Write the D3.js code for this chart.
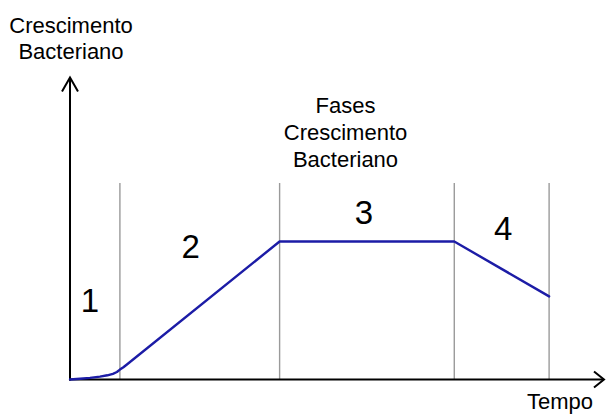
<!DOCTYPE html>
<html><head><meta charset="utf-8">
<script src="https://cdn.jsdelivr.net/npm/d3@7"></script>
<style>body{margin:0;background:#fff}svg{display:block}text{font-family:"Liberation Sans",Arial,sans-serif;fill:#000}</style>
</head><body>
<script>
// Data (time units, growth units)
const curveTime  = [0, 2, 4, 6, 7.5, 8.6, 9.4, 10, 10.7, 11.4, 42, 77, 96];
const curveValue = [0, 0.25, 0.55, 0.95, 1.4, 1.9, 2.5, 3.3, 4.1, 5.0, 46, 46, 27.7];
const phaseBounds = [10, 42, 77, 96];
const phaseLabels = ["1", "2", "3", "4"];
const phaseLabelTime  = [4.0, 24.2, 58.9, 86.8];
const phaseLabelValue = [22.4, 40.6, 51.7, 46.4];
const titleLines = ["Fases", "Crescimento", "Bacteriano"];
const yAxisTitle = ["Crescimento", "Bacteriano"];
const xAxisTitle = "Tempo";

const W = 606, H = 414;
const svg = d3.select("body").append("svg").attr("width", W).attr("height", H);

const x = d3.scaleLinear().domain([0, 107]).range([70, 604]);
const y = d3.scaleLinear().domain([0, 100]).range([379.5, 79.5]);

// phase dividers
svg.append("g").selectAll("line").data(phaseBounds).join("line")
  .attr("x1", d => x(d)).attr("x2", d => x(d))
  .attr("y1", y(0)).attr("y2", y(65.5))
  .attr("stroke", "#9a9a9a").attr("stroke-width", 1.4);

// axes
const ax = svg.append("g").attr("stroke", "#000").attr("fill", "none").attr("stroke-width", 2);
ax.append("line").attr("x1", x(0)).attr("x2", x(0)).attr("y1", y(0) + 1).attr("y2", y(100) - 2);
ax.append("path").attr("d", `M${x(0)-8},${y(100)+12} L${x(0)},${y(100)-2} L${x(0)+8},${y(100)+12}`)
  .attr("stroke-linejoin", "miter");
ax.append("line").attr("x1", x(0) - 1).attr("x2", x(107)).attr("y1", y(0)).attr("y2", y(0));
ax.append("path").attr("d", `M${x(107)-10},${y(0)-8} L${x(107)},${y(0)} L${x(107)-10},${y(0)+8}`);

// growth curve
const pts = curveTime.map((t, i) => [t, curveValue[i]]);
svg.append("path").datum(pts)
  .attr("d", d3.line().x(d => x(d[0])).y(d => y(d[1])).curve(d3.curveLinear))
  .attr("fill", "none").attr("stroke", "#1c1ca6").attr("stroke-width", 2.4)
  .attr("stroke-linejoin", "round").attr("stroke-linecap", "round");

// phase labels
svg.append("g").selectAll("text").data(phaseLabels).join("text")
  .attr("x", (d, i) => x(phaseLabelTime[i])).attr("y", (d, i) => y(phaseLabelValue[i]))
  .attr("text-anchor", "middle").attr("font-size", 33).text(d => d);

// title
svg.append("g").selectAll("text").data(titleLines).join("text")
  .attr("x", 345.5).attr("y", (d, i) => 113 + i * 26.9)
  .attr("text-anchor", "middle").attr("font-size", 22).text(d => d);

// y axis title
svg.append("g").selectAll("text").data(yAxisTitle).join("text")
  .attr("x", 71).attr("y", (d, i) => 33 + i * 26)
  .attr("text-anchor", "middle").attr("font-size", 22).text(d => d);

// x axis title
svg.append("text").attr("x", 560).attr("y", 408.5).attr("text-anchor", "middle")
  .attr("font-size", 22).text(xAxisTitle);
</script>
</body></html>
